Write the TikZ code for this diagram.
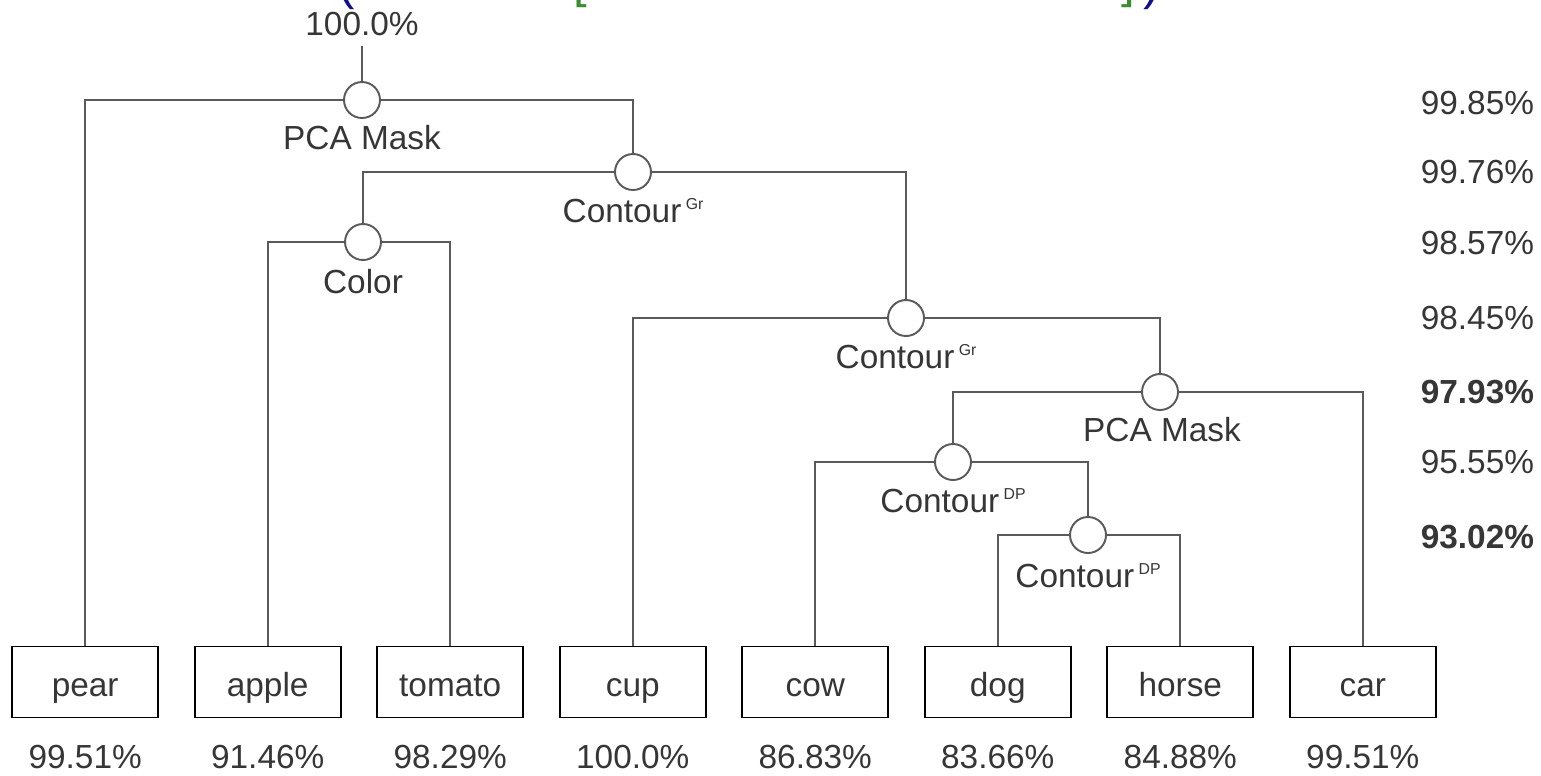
\documentclass[tikz,border=0pt]{standalone}
\usepackage{fontspec}
\setmainfont{Liberation Sans}
\usetikzlibrary{matrix,positioning}
\definecolor{linegray}{HTML}{5A5A5A}
\definecolor{txtgray}{HTML}{363636}
\definecolor{capblue}{HTML}{10108C}
\definecolor{capgreen}{HTML}{3C8C32}
\newcommand{\upidx}[1]{\hspace{2.5pt}\raisebox{7.2pt}{\fontsize{9}{9}\selectfont #1}}

\begin{document}
\begin{tikzpicture}[x=0.02cm,y=-0.02cm,line width=1.1pt,color=linegray,
  every node/.style={text=txtgray,font=\fontsize{19}{21}\selectfont},
  knot/.style={circle,draw,fill=white,minimum size=0.72cm,inner sep=0pt},
  leaf/.style={rectangle,draw,minimum width=2.92cm,minimum height=1.42cm,text height=16pt,text depth=0pt,inner sep=0pt},
  tag/.style={anchor=base,inner sep=0pt},
  score/.style={anchor=base east,inner sep=0pt},
  capmark/.style={anchor=base,inner sep=0pt,font=\fontsize{28}{28}\selectfont}]
\useasboundingbox (0,0) rectangle (1541,775);

\node[capmark,text=capblue] (capl) at (347,-1) {(};
\node[capmark,text=capgreen] (capbl) at (580,-3) {[};
\node[capmark,text=capgreen] (capbr) at (1128,-3) {]};
\node[capmark,text=capblue] (capr) at (1152,-1) {)};

\matrix[matrix of nodes, column sep={3.651cm,between origins}, nodes={leaf}, inner sep=0pt] (row) at (724,682)
{
|(pear)| pear & |(apple)| apple & |(tomato)| tomato & |(cup)| cup & |(cow)| cow & |(dog)| dog & |(horse)| horse & |(car)| car \\};

\node[tag] (top) at (362,35) {100.0\%};
\node[knot] (j1) at (362,100) {};
\node[knot] (j2) at (633,172) {};
\node[knot] (jc) at (363,242) {};
\node[knot] (j3) at (906,318) {};
\node[knot] (j4) at (1160,392) {};
\node[knot] (j5) at (953,462) {};
\node[knot] (j6) at (1088,535) {};

\node[tag] (t1) at (362,149) {PCA Mask};
\node[tag] (t2) at (633,222) {Contour\upidx{Gr}};
\node[tag] (tc) at (363,293) {Color};
\node[tag] (t3) at (906,368) {Contour\upidx{Gr}};
\node[tag] (t4) at (1162,441) {PCA Mask};
\node[tag] (t5) at (953,512) {Contour\upidx{DP}};
\node[tag] (t6) at (1088,587) {Contour\upidx{DP}};

\draw[shorten <=5.5pt] (top) -- (j1);
\draw (pear) |- (j1) -| (j2);
\draw (jc) |- (j2) -| (j3);
\draw (apple) |- (jc) -| (tomato);
\draw (cup) |- (j3) -| (j4);
\draw (j5) |- (j4) -| (car);
\draw (cow) |- (j5) -| (j6);
\draw (dog) |- (j6) -| (horse);

\node[score] (s1) at (1535,114) {99.85\%};
\node[score] (s2) at (1535,183) {99.76\%};
\node[score] (s3) at (1535,254) {98.57\%};
\node[score] (s4) at (1535,329) {98.45\%};
\node[score,font=\fontsize{19}{21}\selectfont\bfseries] (s5) at (1535,403) {97.93\%};
\node[score] (s6) at (1535,473) {95.55\%};
\node[score,font=\fontsize{19}{21}\selectfont\bfseries] (s7) at (1535,548) {93.02\%};

\foreach \b/\v in {pear/99.51,apple/91.46,tomato/98.29,cup/100.0,cow/86.83,dog/83.66,horse/84.88,car/99.51}
  \node[tag] (v\b) at (\b |- 0,768) {\v\%};
\end{tikzpicture}
\end{document}
